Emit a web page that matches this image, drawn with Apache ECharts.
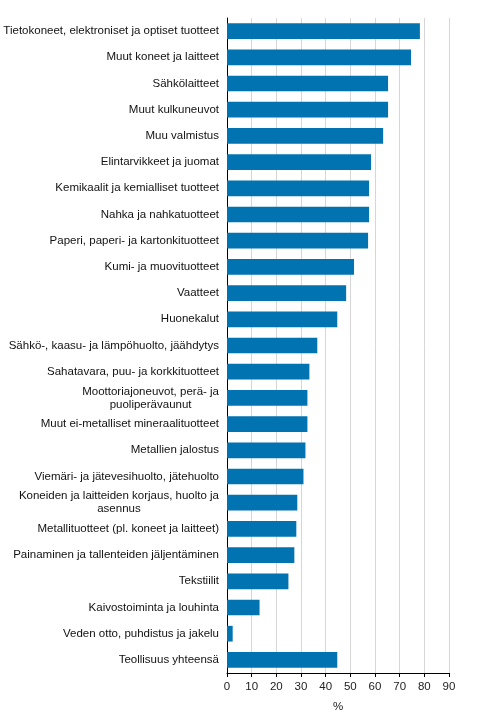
<!DOCTYPE html>
<html>
<head>
<meta charset="utf-8">
<script src="https://cdn.jsdelivr.net/npm/echarts@6/dist/echarts.min.js"></script>
<style>
  html, body { margin: 0; padding: 0; background: #fff; }
  #chartmain { width: 492px; height: 718px; }
</style>
</head>
<body>
<div id="chartmain"></div>
<script>
// toimialat (ylhäältä alas)
var categories = [
    'Tietokoneet, elektroniset ja optiset tuotteet',
    'Muut koneet ja laitteet',
    'Sähkölaitteet',
    'Muut kulkuneuvot',
    'Muu valmistus',
    'Elintarvikkeet ja juomat',
    'Kemikaalit ja kemialliset tuotteet',
    'Nahka ja nahkatuotteet',
    'Paperi, paperi- ja kartonkituotteet',
    'Kumi- ja muovituotteet',
    'Vaatteet',
    'Huonekalut',
    'Sähkö-, kaasu- ja lämpöhuolto, jäähdytys',
    'Sahatavara, puu- ja korkkituotteet',
    'Moottoriajoneuvot, perä- ja\npuoliperävaunut',
    'Muut ei-metalliset mineraalituotteet',
    'Metallien jalostus',
    'Viemäri- ja jätevesihuolto, jätehuolto',
    'Koneiden ja laitteiden korjaus, huolto ja\nasennus',
    'Metallituotteet (pl. koneet ja laitteet)',
    'Painaminen ja tallenteiden jäljentäminen',
    'Tekstiilit',
    'Kaivostoiminta ja louhinta',
    'Veden otto, puhdistus ja jakelu',
    'Teollisuus yhteensä'
];
// osuus, %
var values = [78.2, 74.6, 65.3, 65.3, 63.3, 58.4, 57.6, 57.6, 57.2, 51.5, 48.3, 44.7,
    36.6, 33.4, 32.6, 32.6, 31.8, 31.0, 28.5, 28.1, 27.3, 24.9, 13.2, 2.3, 44.7];
var xTicks = [0, 10, 20, 30, 40, 50, 60, 70, 80, 90];

var chart = echarts.init(document.getElementById('chartmain'));
var font = '"Liberation Sans", Arial, sans-serif';

chart.setOption({
    animation: false,
    textStyle: { fontFamily: font },
    grid: { left: 227, right: 43, top: 18, bottom: 43 },
    xAxis: {
        type: 'value',
        min: xTicks[0],
        max: xTicks[xTicks.length - 1],
        interval: 10,
        name: '%',
        nameLocation: 'middle',
        nameGap: 28,
        nameTextStyle: { fontSize: 11.5, color: '#222', fontFamily: font },
        axisLine: { show: true, lineStyle: { color: '#000', width: 1 } },
        axisTick: { show: true, length: 4, lineStyle: { color: '#000' } },
        axisLabel: { fontSize: 11.5, color: '#222', margin: 8, fontFamily: font },
        splitLine: { show: true, lineStyle: { color: '#d6d6d6', width: 1 } }
    },
    yAxis: {
        type: 'category',
        inverse: true,
        data: categories,
        axisLine: { show: true, lineStyle: { color: '#000', width: 1 } },
        axisTick: { show: false },
        axisLabel: {
            fontSize: 11.5,
            color: '#111',
            margin: 8,
            fontFamily: font,
            lineHeight: 13,
            formatter: function (v) {
                return v.split('\n').map(function (s) { return '{c|' + s + '}'; }).join('\n');
            },
            rich: {
                c: { align: 'center', fontSize: 11.5, color: '#111', fontFamily: font, lineHeight: 13 }
            }
        }
    },
    series: [{
        name: '%',
        type: 'bar',
        data: values,
        barCategoryGap: '40%',
        itemStyle: { color: '#0073b0' }
    }]
});
</script>
</body>
</html>
